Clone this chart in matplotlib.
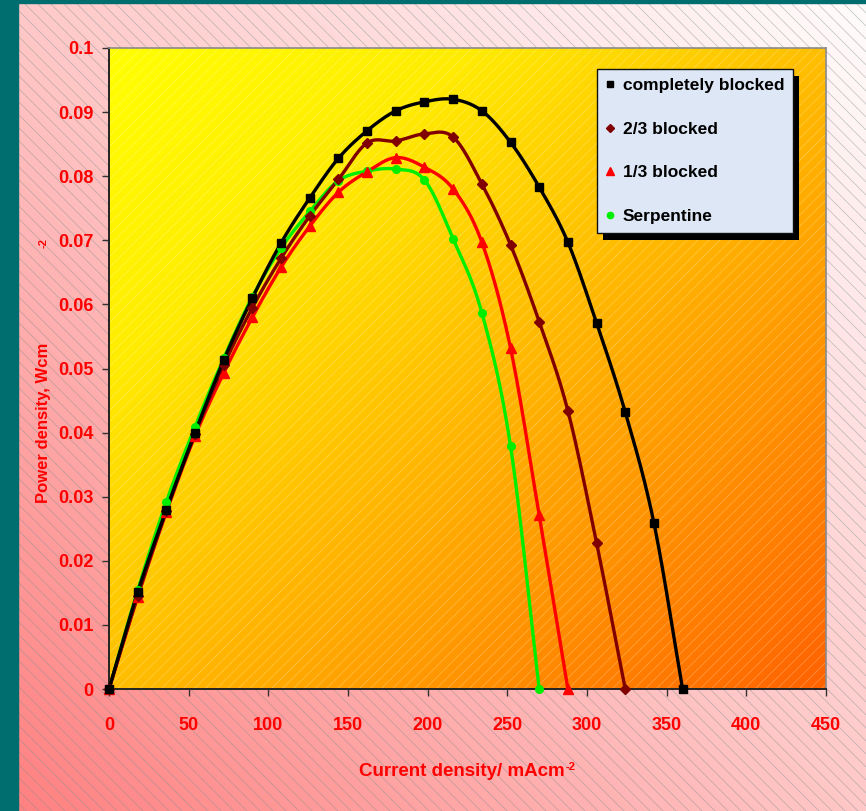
import numpy as np
import matplotlib
matplotlib.use('Agg')
import matplotlib.pyplot as plt
from matplotlib.patches import Rectangle
from matplotlib.lines import Line2D
from matplotlib.transforms import IdentityTransform

FONT = ['Liberation Sans Narrow', 'Liberation Sans', 'DejaVu Sans']
plt.rcParams['font.family'] = FONT
plt.rcParams['font.weight'] = 'bold'

# ---------------- data ----------------
current_blocked = [0, 18, 36, 54, 72, 90, 108, 126, 144, 162, 180, 198, 216, 234,
                   252, 270, 288, 306, 324, 342, 360]
power_blocked = [0, 0.0151, 0.0280, 0.0400, 0.0513, 0.0610, 0.0696, 0.0766, 0.0828,
                 0.0871, 0.0902, 0.0916, 0.0920, 0.0902, 0.0853, 0.0783, 0.0697,
                 0.0571, 0.0432, 0.0259, 0]

current_23 = [0, 18, 36, 54, 72, 90, 108, 126, 144, 162, 180, 198, 216, 234, 252,
              270, 288, 306, 324]
power_23 = [0, 0.0145, 0.0278, 0.0398, 0.0505, 0.0595, 0.0672, 0.0738, 0.0795,
            0.0852, 0.0855, 0.0866, 0.0861, 0.0788, 0.0693, 0.0573, 0.0434, 0.0228, 0]

current_13 = [0, 18, 36, 54, 72, 90, 108, 126, 144, 162, 180, 198, 216, 234, 252,
              270, 288]
power_13 = [0, 0.0144, 0.0276, 0.0395, 0.0493, 0.0580, 0.0658, 0.0722, 0.0775,
            0.0807, 0.0829, 0.0814, 0.0780, 0.0697, 0.0532, 0.0271, 0]

current_serp = [0, 18, 36, 54, 72, 90, 108, 126, 144, 162, 180, 198, 216, 234, 252,
                270]
power_serp = [0, 0.0154, 0.0292, 0.0409, 0.0516, 0.0612, 0.0688, 0.0745, 0.0793,
              0.0808, 0.0811, 0.0794, 0.0702, 0.0587, 0.0379, 0]

series_labels = ['completely blocked', '2/3 blocked', '1/3 blocked', 'Serpentine']
x_ticks = [0, 50, 100, 150, 200, 250, 300, 350, 400, 450]
y_ticks = [0, 0.01, 0.02, 0.03, 0.04, 0.05, 0.06, 0.07, 0.08, 0.09, 0.1]
y_tick_labels = ['0', '0.01', '0.02', '0.03', '0.04', '0.05', '0.06', '0.07',
                 '0.08', '0.09', '0.1']


def smooth(xs, ys, n=24):
    P = np.column_stack([xs, ys]).astype(float)
    pts = np.vstack([2 * P[0] - P[1], P, 2 * P[-1] - P[-2]])
    out = []
    t = np.linspace(0, 1, n, endpoint=False)[:, None]
    for i in range(1, len(pts) - 2):
        p0, p1, p2, p3 = pts[i - 1], pts[i], pts[i + 1], pts[i + 2]
        seg = 0.5 * ((2 * p1) + (-p0 + p2) * t + (2 * p0 - 5 * p1 + 4 * p2 - p3) * t ** 2
                     + (-p0 + 3 * p1 - 3 * p2 + p3) * t ** 3)
        out.append(seg)
    out.append(P[-1:])
    s = np.vstack(out)
    return s[:, 0], s[:, 1]


W, H = 866, 811
fig = plt.figure(figsize=(W / 100, H / 100), dpi=100)

# ---------- figure background ----------
bg = fig.add_axes([0, 0, 1, 1], zorder=0)
bg.axis('off')
u = np.linspace(0, 1, 200)[None, :]
v = np.linspace(1, 0, 200)[:, None]
tb = (u + v) / 2
gb = np.interp(tb, [0, 0.5, 1], [128, 200, 252])
img = np.dstack([np.ones_like(gb), gb / 255, gb / 255])
bg.imshow(img, extent=[0, W, 0, H], aspect='auto', interpolation='bilinear')
for c in np.arange(0, W + H + 20, 13):
    bg.plot([c - H, c], [H, 0], color='#7f8f8f', lw=0.6, alpha=0.45)
bg.add_patch(Rectangle((0, 0), 18, H, color='#006e6e', zorder=3))
bg.add_patch(Rectangle((0, H - 3), W, 3, color='#006e6e', zorder=3))
bg.set_xlim(0, W)
bg.set_ylim(0, H)

# ---------- plot area ----------
L, R, T, B = 109, 826, 48, 689
pos = [L / W, (H - B) / H, (R - L) / W, (B - T) / H]
pa = fig.add_axes(pos, zorder=1)
pw, ph = R - L, B - T
pa.axis('off')
uu = np.linspace(0, 1, 300)[None, :]
vv = np.linspace(1, 0, 300)[:, None]
tp = (uu + (1 - vv)) / 2
gp = np.interp(tp, [0, 0.25, 0.5, 0.75, 1], [255, 236, 190, 145, 98])
pimg = np.dstack([np.ones_like(gp), gp / 255, np.zeros_like(gp)])
pa.imshow(pimg, extent=[0, pw, 0, ph], aspect='auto', interpolation='bilinear')
for c in np.arange(-ph, pw + 10, 11):
    pa.plot([c, c + ph], [0, ph], color='white', lw=0.5, alpha=0.3)
pa.set_xlim(0, pw)
pa.set_ylim(0, ph)

ax = fig.add_axes(pos, zorder=2)
ax.patch.set_alpha(0)
ax.set_xlim(0, 450)
ax.set_ylim(0, 0.1)

series = [
    (current_serp, power_serp, '#00ee00', 'o', 5.5),
    (current_13, power_13, '#ff0000', '^', 6.5),
    (current_23, power_23, '#800000', 'D', 5),
    (current_blocked, power_blocked, '#000000', 's', 5.5),
]
for xs, ys, col, mk, ms in series:
    sx, sy = smooth(xs, ys)
    ax.plot(sx, sy, color=col, lw=2.4, solid_capstyle='round', zorder=3)
    ax.plot(xs, ys, linestyle='none', marker=mk, color=col, ms=ms, zorder=4,
            clip_on=False)

for s in ['left', 'bottom']:
    ax.spines[s].set_color('#222222')
    ax.spines[s].set_linewidth(1.4)
for s in ['top', 'right']:
    ax.spines[s].set_color('#8a8a8a')
    ax.spines[s].set_linewidth(1.2)

ax.set_xticks(x_ticks)
ax.set_xticklabels([str(v) for v in x_ticks])
ax.set_yticks(y_ticks)
ax.set_yticklabels(y_tick_labels)
ax.tick_params(axis='both', direction='out', length=5, width=1, color='#333333',
               labelcolor='#ff0000', labelsize=13)
ax.tick_params(axis='x', pad=15)
ax.tick_params(axis='y', pad=6)
for lab in ax.get_xticklabels() + ax.get_yticklabels():
    lab.set_fontweight('bold')

# axis titles
fig.text(44 / W, 1 - 423 / H, 'Power density, Wcm', rotation=90, color='#ff0000',
         fontsize=12, fontweight='bold', ha='center', va='center')
fig.text(44 / W, 1 - 243 / H, '-2', rotation=90, color='#ff0000',
         fontsize=8, fontweight='bold', ha='center', va='center')
xl = fig.text(462 / W, 1 - 771 / H, 'Current density/ mAcm', color='#ff0000',
              fontsize=13.5, fontweight='bold', ha='center', va='center')

# legend
handles = [
    Line2D([], [], linestyle='none', marker='s', color='#000000', ms=4.5),
    Line2D([], [], linestyle='none', marker='D', color='#800000', ms=4.5),
    Line2D([], [], linestyle='none', marker='^', color='#ff0000', ms=5.5),
    Line2D([], [], linestyle='none', marker='o', color='#00ee00', ms=4.5),
]
leg = ax.legend(handles, series_labels, loc='upper left',
                bbox_to_anchor=(597 / W, 1 - 69 / H), bbox_transform=fig.transFigure,
                borderaxespad=0, frameon=True, fancybox=False, framealpha=1,
                facecolor='#dde7f5', edgecolor='#111111', handlelength=0.5,
                handletextpad=0.5, labelspacing=1.65, borderpad=0.5,
                prop={'weight': 'bold', 'size': 12.5, 'family': FONT})
leg.get_frame().set_linewidth(1.0)
leg.set_zorder(6)

fig.canvas.draw()
bb = leg.get_window_extent()
shadow = Rectangle((bb.x0 + 6, bb.y0 - 7), bb.width, bb.height, facecolor='black',
                   edgecolor='none', transform=IdentityTransform(), clip_on=False,
                   zorder=5.5)
ax.add_artist(shadow)

xb = xl.get_window_extent()
fig.text((xb.x1 + 1) / W, (xb.y1 - 4) / H, '-2', color='#ff0000', fontsize=8,
         fontweight='bold', ha='left', va='center')

fig.savefig('out.png', dpi=100)
